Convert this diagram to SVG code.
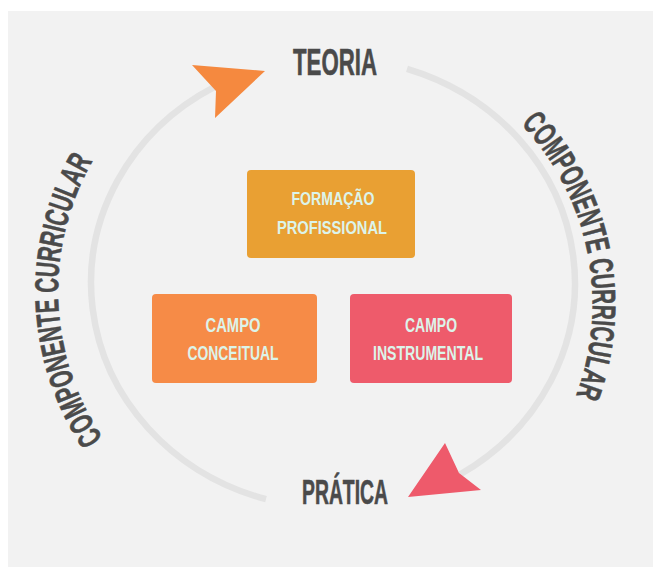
<svg xmlns="http://www.w3.org/2000/svg" width="653" height="567" viewBox="0 0 653 567">
<defs>
<style>
.lbl{font-family:"Liberation Sans",Arial,sans-serif;font-weight:bold;fill:#4a4a4a;stroke:#4a4a4a;stroke-width:0.6}
.bt{font-family:"Liberation Sans",Arial,sans-serif;font-weight:bold;fill:#dcf4ea;text-anchor:middle}
.arc{fill:none;stroke:#e3e3e3;stroke-width:6.5}
</style>
<path id="pl" d="M103,438 A262,262 0 0 1 104,143"/>
<path id="pr" d="M521,124 A262,262 0 0 1 577,393"/>
</defs>
<rect x="0" y="0" width="653" height="567" fill="#ffffff"/>
<rect x="8" y="11" width="645" height="556" fill="#f2f2f2"/>
<g id="connectors">
<path class="arc" d="M407,68.8 A242,225 0 0 1 460,474.5"/>
<path class="arc" d="M266,499.2 A242,225 0 0 1 215,86.6"/>
<polygon points="265,71 192,65 216,91 215,118" fill="#f5893f"/>
<polygon points="408,497 481,490 459,473 445,443" fill="#ee5a6b"/>
</g>
<g id="teoria"><text class="lbl" x="293" y="75" font-size="37.5" textLength="84" lengthAdjust="spacingAndGlyphs">TEORIA</text></g>
<g id="pratica"><text class="lbl" x="302" y="504" font-size="35" textLength="86" lengthAdjust="spacingAndGlyphs">PRÁTICA</text></g>
<g id="componente-left"><text class="lbl" font-size="33"><textPath href="#pl" textLength="292" lengthAdjust="spacingAndGlyphs">COMPONENTE CURRICULAR</textPath></text></g>
<g id="componente-right"><text class="lbl" font-size="33"><textPath href="#pr" textLength="292" lengthAdjust="spacingAndGlyphs">COMPONENTE CURRICULAR</textPath></text></g>
<g id="formacao">
<rect x="247" y="170" width="168" height="88" rx="4" fill="#e9a033"/>
<text class="bt" x="333" y="205" font-size="18.5" textLength="83" lengthAdjust="spacingAndGlyphs">FORMAÇÃO</text>
<text class="bt" x="332" y="234" font-size="18.5" textLength="110" lengthAdjust="spacingAndGlyphs">PROFISSIONAL</text>
</g>
<g id="campo-conceitual">
<rect x="152" y="294" width="165" height="89" rx="4" fill="#f68b47"/>
<text class="bt" x="233" y="332" font-size="20" textLength="55" lengthAdjust="spacingAndGlyphs">CAMPO</text>
<text class="bt" x="233" y="360" font-size="20" textLength="91" lengthAdjust="spacingAndGlyphs">CONCEITUAL</text>
</g>
<g id="campo-instrumental">
<rect x="350" y="294" width="162" height="89" rx="4" fill="#ee5b6b"/>
<text class="bt" x="431" y="332" font-size="20" textLength="52" lengthAdjust="spacingAndGlyphs">CAMPO</text>
<text class="bt" x="428" y="360" font-size="20" textLength="110" lengthAdjust="spacingAndGlyphs">INSTRUMENTAL</text>
</g>
</svg>
